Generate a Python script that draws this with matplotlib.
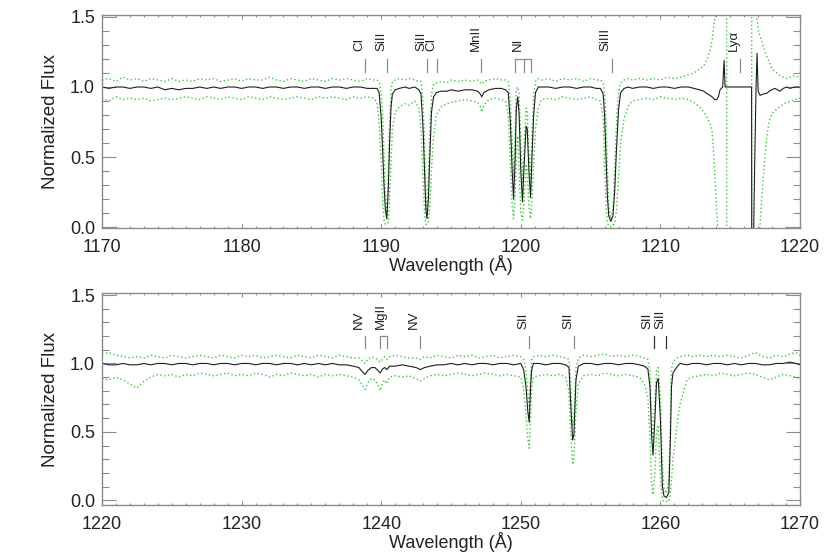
import numpy as np
import matplotlib
matplotlib.use('Agg')
import matplotlib.pyplot as plt
from matplotlib.ticker import MultipleLocator, FormatStrFormatter

plt.rcParams['font.family'] = ['Liberation Sans', 'DejaVu Sans']

# ---------------- upper panel, 1170-1220 A ----------------
top_wave = [
    # continuum
    1170.0, 1170.5, 1171.0, 1171.5, 1172.0, 1172.5, 1173.0, 1173.5, 1174.0, 1174.5,
    1175.0, 1175.5, 1176.0, 1176.5, 1177.0, 1177.5, 1178.0, 1178.5, 1179.0, 1179.5,
    1180.0, 1180.5, 1181.0, 1181.5, 1182.0, 1182.5, 1183.0, 1183.5, 1184.0, 1184.5,
    1185.0, 1185.5, 1186.0, 1186.5, 1187.0, 1187.5, 1188.0, 1188.5, 1189.0, 1189.5,
    # SiII 1190
    1189.70, 1189.85, 1190.00, 1190.10, 1190.20, 1190.30, 1190.40, 1190.50, 1190.60, 1190.70,
    1190.80, 1191.00, 1191.30, 1191.70, 1192.00, 1192.40, 1192.70,
    # SiII 1193, MnII
    1192.85, 1193.00, 1193.10, 1193.20, 1193.28, 1193.38, 1193.48, 1193.60, 1193.75, 1193.95,
    1194.30, 1194.70, 1195.00, 1195.50, 1196.00, 1196.50, 1196.90, 1197.10, 1197.20, 1197.35,
    1197.70, 1198.20, 1198.60, 1198.90,
    # NI triplet
    1199.10, 1199.25, 1199.38, 1199.48, 1199.58, 1199.68, 1199.78, 1199.88, 1200.00, 1200.12,
    1200.24, 1200.38, 1200.46, 1200.58, 1200.70, 1200.80, 1200.92, 1201.05, 1201.25, 1201.50,
    1202.00, 1202.50, 1203.00, 1203.50, 1204.00, 1204.50, 1205.00, 1205.40,
    # SiIII, Lya wing
    1205.70, 1205.90, 1206.00, 1206.10, 1206.20, 1206.30, 1206.45, 1206.60, 1206.72, 1206.85,
    1207.00, 1207.15, 1207.40, 1207.70, 1208.00, 1208.50, 1209.00, 1209.50, 1210.00, 1210.50,
    1211.00, 1211.50, 1212.00, 1212.40, 1212.80, 1213.10, 1213.30, 1213.55, 1213.70, 1213.80,
    1213.90, 1214.03, 1214.15, 1214.27, 1214.46, 1214.56, 1214.63, 1214.74,
    # Lya core and red wing
    1214.75, 1216.53, 1216.54, 1216.68, 1216.75, 1216.85, 1216.92, 1217.00, 1217.14, 1217.37,
    1217.61, 1217.80, 1217.97, 1218.20, 1218.57, 1218.80, 1219.05, 1219.28, 1219.60, 1220.00,
]
top_flux = [
    1.00, 0.99, 1.00, 1.00, 0.99, 1.00, 1.00, 0.99, 1.00, 0.98,
    0.99, 0.98, 0.99, 0.99, 1.00, 0.99, 1.00, 0.99, 1.00, 1.00,
    0.99, 1.00, 1.00, 0.99, 1.00, 1.00, 0.99, 1.00, 1.00, 0.99,
    1.00, 1.00, 0.99, 1.00, 1.00, 0.99, 1.00, 1.00, 0.99, 0.99,
    0.99, 0.96, 0.78, 0.55, 0.30, 0.12, 0.06, 0.25, 0.60, 0.85,
    0.95, 0.98, 0.99, 1.00, 0.99, 1.00, 0.98,
    0.95, 0.70, 0.40, 0.12, 0.06, 0.20, 0.50, 0.82, 0.93, 0.96,
    0.97, 0.97, 0.98, 0.97, 0.98, 0.98, 0.97, 0.95, 0.93, 0.96,
    0.98, 0.99, 0.99, 0.98,
    0.96, 0.75, 0.40, 0.20, 0.45, 0.85, 0.93, 0.80, 0.40, 0.18,
    0.45, 0.72, 0.70, 0.40, 0.21, 0.50, 0.80, 0.96, 1.00, 1.00,
    1.00, 0.99, 1.00, 1.00, 0.99, 1.00, 1.00, 0.99,
    0.99, 0.95, 0.80, 0.50, 0.22, 0.08, 0.04, 0.08, 0.25, 0.55,
    0.84, 0.96, 0.99, 1.00, 0.99, 1.00, 1.00, 0.99, 1.00, 1.00,
    0.99, 1.00, 1.00, 0.99, 0.98, 0.97, 0.955, 0.94, 0.93, 0.92,
    0.91, 0.91, 0.93, 0.98, 1.00, 1.19, 1.00, 1.00,
    1.00, 1.00, -0.02, -0.02, 0.45, 1.00, 1.24, 0.97, 0.94, 0.95,
    0.955, 0.97, 0.98, 0.99, 0.97, 0.99, 1.00, 0.99, 1.00, 1.00,
]
top_upper = [
    1.05, 1.06, 1.04, 1.07, 1.05, 1.06, 1.04, 1.06, 1.05, 1.04,
    1.06, 1.04, 1.05, 1.04, 1.06, 1.05, 1.06, 1.04, 1.05, 1.06,
    1.04, 1.06, 1.05, 1.05, 1.07, 1.05, 1.04, 1.06, 1.05, 1.04,
    1.06, 1.05, 1.04, 1.06, 1.05, 1.06, 1.05, 1.04, 1.06, 1.05,
    1.05, 1.04, 0.95, 0.80, 0.50, 0.22, 0.10, 0.35, 0.75, 0.98,
    1.04, 1.05, 1.06, 1.05, 1.06, 1.05, 1.04,
    1.04, 0.90, 0.60, 0.25, 0.10, 0.35, 0.70, 0.95, 1.02, 1.03,
    1.04, 1.03, 1.05, 1.04, 1.05, 1.04, 1.05, 1.03, 1.02, 1.04,
    1.05, 1.06, 1.05, 1.05,
    1.04, 0.90, 0.60, 0.35, 0.60, 0.98, 1.00, 0.95, 0.60, 0.32,
    0.60, 0.85, 0.82, 0.55, 0.35, 0.65, 0.95, 1.04, 1.06, 1.05,
    1.06, 1.04, 1.06, 1.05, 1.06, 1.04, 1.06, 1.05,
    1.05, 1.03, 0.95, 0.75, 0.40, 0.15, 0.06, 0.12, 0.40, 0.75,
    0.96, 1.03, 1.05, 1.06, 1.05, 1.06, 1.05, 1.06, 1.05, 1.07,
    1.06, 1.07, 1.09, 1.10, 1.13, 1.15, 1.19, 1.26, 1.33, 1.41,
    1.50, 1.70, 2.00, 2.50, 3.00, 3.00, 3.00, 3.00,
    -3.00, -3.00, 3.00, 3.00, 2.60, 1.80, 1.50, 1.41, 1.36, 1.29,
    1.22, 1.18, 1.13, 1.11, 1.08, 1.07, 1.06, 1.07, 1.08, 1.07,
]
top_lower = [
    0.92, 0.90, 0.93, 0.91, 0.92, 0.91, 0.92, 0.90, 0.91, 0.92,
    0.91, 0.92, 0.93, 0.92, 0.91, 0.93, 0.92, 0.91, 0.93, 0.92,
    0.91, 0.93, 0.92, 0.91, 0.93, 0.92, 0.91, 0.92, 0.93, 0.92,
    0.91, 0.93, 0.92, 0.93, 0.92, 0.91, 0.93, 0.92, 0.93, 0.92,
    0.88, 0.75, 0.45, 0.20, 0.05, 0.02, 0.02, 0.03, 0.20, 0.45,
    0.70, 0.82, 0.86, 0.88, 0.87, 0.90, 0.85,
    0.70, 0.35, 0.10, 0.02, 0.02, 0.03, 0.15, 0.40, 0.65, 0.80,
    0.86, 0.88, 0.89, 0.90, 0.91, 0.90, 0.89, 0.86, 0.82, 0.87,
    0.91, 0.92, 0.91, 0.90,
    0.80, 0.45, 0.15, 0.06, 0.20, 0.55, 0.65, 0.40, 0.10, 0.05,
    0.20, 0.45, 0.40, 0.15, 0.06, 0.20, 0.45, 0.70, 0.85, 0.91,
    0.92, 0.91, 0.93, 0.92, 0.91, 0.92, 0.93, 0.91,
    0.90, 0.78, 0.45, 0.15, 0.03, 0.01, 0.00, 0.01, 0.03, 0.12,
    0.35, 0.60, 0.78, 0.86, 0.90, 0.91, 0.92, 0.91, 0.93, 0.92,
    0.91, 0.92, 0.91, 0.89, 0.86, 0.82, 0.79, 0.74, 0.68, 0.55,
    0.36, 0.12, -0.10, -0.40, -1.00, -1.00, -1.00, -1.00,
    -1.00, -1.00, -1.00, -1.00, -1.00, -1.00, -0.50, -0.20, 0.03, 0.36,
    0.64, 0.76, 0.81, 0.83, 0.86, 0.88, 0.89, 0.895, 0.91, 0.92,
]

top_id_labels = ['CI', 'SiII', 'SiII', 'CI', 'MnII', 'NI', 'SiIII', 'Ly\u03b1']
top_id_waves = [[1188.83], [1190.42], [1193.29], [1194.00], [1197.18],
                [1199.55, 1200.22, 1200.71], [1206.50], [1215.67]]

# ---------------- lower panel, 1220-1270 A ----------------
bot_wave = [
    1220.0, 1220.5, 1221.0, 1221.5, 1222.0, 1222.5, 1223.0, 1223.5, 1224.0, 1224.5,
    1225.0, 1225.5, 1226.0, 1226.5, 1227.0, 1227.5, 1228.0, 1228.5, 1229.0, 1229.5,
    1230.0, 1230.5, 1231.0, 1231.5, 1232.0, 1232.5, 1233.0, 1233.5, 1234.0, 1234.5,
    1235.0, 1235.5, 1236.0, 1236.5, 1237.0, 1237.5, 1238.0,
    # NV, MgII, NV
    1238.40, 1238.65, 1238.85, 1239.05, 1239.30, 1239.55, 1239.75, 1239.92, 1240.10, 1240.25,
    1240.40, 1240.60, 1241.00, 1241.50, 1242.00, 1242.50, 1242.80, 1243.10, 1243.50, 1244.00,
    1244.50, 1245.00, 1245.50, 1246.00, 1246.50, 1247.00, 1247.50, 1248.00, 1248.50, 1249.00,
    1249.50, 1250.00,
    # SII 1250, SII 1253
    1250.20, 1250.37, 1250.50, 1250.60, 1250.70, 1250.78, 1250.90, 1251.30, 1251.80, 1252.30,
    1252.80, 1253.20, 1253.45, 1253.57, 1253.71, 1253.80, 1253.95, 1254.12, 1254.50, 1255.00,
    1255.50, 1256.00, 1256.50, 1257.00, 1257.50, 1258.00, 1258.50, 1258.85,
    # SII 1259, SiII 1260
    1259.10, 1259.25, 1259.37, 1259.47, 1259.60, 1259.72, 1259.84, 1260.00, 1260.14, 1260.26,
    1260.43, 1260.60, 1260.72, 1260.79, 1260.90, 1261.15, 1261.40, 1261.90, 1262.30, 1262.80,
    1263.30, 1263.80, 1264.30, 1264.80, 1265.30, 1265.80, 1266.30, 1266.80, 1267.30, 1267.80,
    1268.30, 1268.80, 1269.30, 1269.70, 1270.00,
]
bot_flux = [
    1.00, 0.99, 0.99, 1.00, 0.99, 0.99, 1.00, 0.99, 1.00, 1.00,
    0.99, 1.00, 1.00, 0.99, 1.00, 1.00, 0.99, 1.00, 1.00, 0.99,
    1.00, 1.00, 0.99, 1.00, 1.00, 0.99, 1.00, 1.00, 0.99, 1.00,
    0.99, 1.00, 0.99, 1.00, 0.99, 0.99, 0.98,
    0.97, 0.94, 0.92, 0.95, 0.97, 0.97, 0.95, 0.93, 0.96, 0.97,
    0.955, 0.98, 0.98, 0.99, 0.98, 0.97, 0.955, 0.97, 0.98, 0.99,
    0.99, 1.00, 0.99, 1.00, 0.99, 1.00, 1.00, 0.99, 1.00, 1.00,
    0.99, 1.00,
    0.955, 0.83, 0.65, 0.57, 0.83, 0.955, 1.00, 1.00, 0.99, 1.00,
    1.00, 0.99, 0.97, 0.71, 0.44, 0.48, 0.88, 0.98, 1.00, 1.00,
    0.99, 1.00, 1.00, 0.99, 1.00, 1.00, 0.99, 0.98,
    0.96, 0.83, 0.47, 0.33, 0.59, 0.86, 0.89, 0.59, 0.10, 0.03,
    0.02, 0.055, 0.47, 0.83, 0.93, 0.97, 1.00, 0.99, 1.00, 1.00,
    0.99, 1.00, 1.00, 0.99, 1.00, 0.99, 1.00, 1.00, 0.99, 0.99,
    1.00, 1.00, 1.01, 1.00, 0.99,
]
bot_upper = [
    1.07, 1.08, 1.06, 1.05, 1.04, 1.05, 1.04, 1.06, 1.05, 1.04,
    1.06, 1.05, 1.04, 1.05, 1.06, 1.05, 1.04, 1.06, 1.05, 1.04,
    1.06, 1.05, 1.06, 1.04, 1.05, 1.06, 1.05, 1.04, 1.06, 1.05,
    1.04, 1.06, 1.05, 1.04, 1.06, 1.05, 1.04,
    1.04, 1.02, 1.00, 1.03, 1.05, 1.04, 1.03, 1.01, 1.03, 1.05,
    1.03, 1.05, 1.06, 1.05, 1.04, 1.04, 1.03, 1.05, 1.04, 1.06,
    1.05, 1.04, 1.06, 1.05, 1.06, 1.04, 1.05, 1.06, 1.04, 1.05,
    1.06, 1.05,
    1.03, 0.95, 0.78, 0.69, 0.92, 1.03, 1.05, 1.06, 1.05, 1.06,
    1.05, 1.04, 1.03, 0.85, 0.55, 0.60, 0.97, 1.04, 1.06, 1.05,
    1.06, 1.07, 1.05, 1.06, 1.05, 1.06, 1.05, 1.04,
    1.03, 0.95, 0.62, 0.45, 0.72, 0.95, 0.97, 0.75, 0.25, 0.08,
    0.05, 0.15, 0.65, 0.95, 1.01, 1.04, 1.05, 1.06, 1.05, 1.06,
    1.05, 1.06, 1.05, 1.06, 1.05, 1.04, 1.06, 1.08, 1.05, 1.04,
    1.06, 1.05, 1.07, 1.08, 1.06,
]
bot_lower = [
    0.89, 0.88, 0.90, 0.88, 0.85, 0.82, 0.87, 0.90, 0.92, 0.91,
    0.92, 0.90, 0.92, 0.91, 0.93, 0.92, 0.91, 0.92, 0.93, 0.91,
    0.92, 0.91, 0.93, 0.92, 0.90, 0.92, 0.91, 0.93, 0.92, 0.91,
    0.92, 0.90, 0.92, 0.91, 0.92, 0.91, 0.90,
    0.88, 0.84, 0.81, 0.86, 0.89, 0.88, 0.85, 0.80, 0.86, 0.88,
    0.85, 0.90, 0.91, 0.90, 0.91, 0.89, 0.87, 0.89, 0.91, 0.92,
    0.91, 0.92, 0.93, 0.92, 0.91, 0.92, 0.93, 0.92, 0.91, 0.92,
    0.91, 0.90,
    0.82, 0.62, 0.45, 0.38, 0.60, 0.82, 0.90, 0.91, 0.92, 0.91,
    0.92, 0.90, 0.80, 0.50, 0.26, 0.30, 0.65, 0.85, 0.91, 0.92,
    0.91, 0.93, 0.92, 0.91, 0.92, 0.91, 0.90, 0.85,
    0.75, 0.45, 0.12, 0.04, 0.20, 0.50, 0.55, 0.15, 0.00, -0.01,
    -0.01, -0.01, 0.05, 0.15, 0.30, 0.52, 0.70, 0.88, 0.90, 0.91,
    0.92, 0.91, 0.93, 0.92, 0.91, 0.92, 0.93, 0.92, 0.90, 0.88,
    0.90, 0.92, 0.91, 0.90, 0.89,
]

bot_id_labels = ['NV', 'MgII', 'NV', 'SII', 'SII', 'SII', 'SiII']
bot_id_waves = [[1238.82], [1239.93, 1240.39], [1242.80], [1250.58],
                [1253.81], [1259.52], [1260.42]]

# styles
GREEN = '#33cc33'
SPINE = '#8c8c8c'
TEXT = '#222222'
top_id_colors = [SPINE] * len(top_id_labels)
bot_id_colors = [SPINE] * 5 + ['#333333', '#333333']


def drawPanel(ax, wave, flux, upper, lower, xr, yr, labels, idwaves, idcolors):
    ax.plot(wave, upper, color=GREEN, lw=1.0, ls=(0, (1, 1.8)))
    ax.plot(wave, lower, color=GREEN, lw=1.0, ls=(0, (1, 1.8)))
    ax.plot(wave, flux, color='#1e1e1e', lw=0.8)

    for lab, ws, c in zip(labels, idwaves, idcolors):
        for w in ws:
            ax.plot([w, w], [1.11, 1.20], color=c, lw=0.9)
        if len(ws) > 1:
            ax.plot([ws[0], ws[-1]], [1.20, 1.20], color=c, lw=0.9)
        ax.text(ws[len(ws) // 2], 1.255, lab, rotation=90, ha='right',
                va='bottom', fontsize=9.5, color=TEXT)

    ax.set_xlim(*xr)
    ax.set_ylim(*yr)
    ax.xaxis.set_major_locator(MultipleLocator(10))
    ax.xaxis.set_minor_locator(MultipleLocator(1))
    ax.yaxis.set_major_locator(MultipleLocator(0.5))
    ax.yaxis.set_minor_locator(MultipleLocator(0.1))
    ax.yaxis.set_major_formatter(FormatStrFormatter('%.1f'))
    ax.tick_params(which='both', direction='in', top=True, right=True,
                   color=SPINE, labelcolor=TEXT, labelsize=13, width=0.8)
    ax.tick_params(axis='x', which='major', length=3.2, pad=8)
    ax.tick_params(axis='x', which='minor', length=1.6)
    ax.tick_params(axis='y', which='major', length=10, pad=5)
    ax.tick_params(axis='y', which='minor', length=5)
    for s in ax.spines.values():
        s.set_color(SPINE)
        s.set_linewidth(1.0)
    ax.set_xlabel('Wavelength (\u00c5)', fontsize=13, color=TEXT, labelpad=-1)
    ax.set_ylabel('Normalized Flux', fontsize=13.5, color=TEXT, labelpad=8)


fig = plt.figure(figsize=(8.3, 5.54), dpi=100)
ax1 = fig.add_axes([0.1229, 0.5884, 0.8410, 0.3845])
ax2 = fig.add_axes([0.1229, 0.0884, 0.8410, 0.3827])

drawPanel(ax1, top_wave, top_flux, top_upper, top_lower, (1170, 1220), (-0.007, 1.514),
          top_id_labels, top_id_waves, top_id_colors)
drawPanel(ax2, bot_wave, bot_flux, bot_upper, bot_lower, (1220, 1270), (-0.035, 1.515),
          bot_id_labels, bot_id_waves, bot_id_colors)

fig.savefig('out.png', dpi=100)
